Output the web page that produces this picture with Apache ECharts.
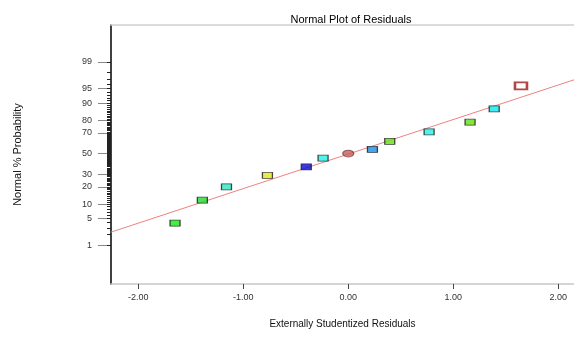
<!DOCTYPE html>
<html><head><meta charset="utf-8">
<script src="https://cdn.jsdelivr.net/npm/echarts@6/dist/echarts.min.js"></script>
<style>html,body{margin:0;padding:0;background:#fff}#c{width:574px;height:337px}</style>
</head><body><div id="c"></div>
<script>
// ---- data ----
const residuals     = [-1.65, -1.39, -1.16, -0.77, -0.40, -0.24, 0.00, 0.23, 0.395, 0.77, 1.16, 1.39, 1.645];
const probabilities = [3.9, 11.9, 20.0, 29.0, 36.8, 45.4, 50.0, 54.3, 62.2, 71.0, 78.7, 87.2, 95.7];
const pointColors   = ['#10ee10', '#20dd30', '#30e6c0', '#e6e620', '#0a0ae0', '#20f0e8', '#c0605c',
                       '#1890e8', '#66e010', '#20f0e8', '#66e010', '#10e8f0', '#ffffff'];
const fitLineResiduals     = [-2.26, 2.15];
const fitLineProbabilities = [2.33, 96.93];
const xTickValues   = [-2, -1, 0, 1, 2];
const yTickLabels   = [1, 5, 10, 20, 30, 50, 70, 80, 90, 95, 99];
const yMinorTickPct = [1,2,3,4,5,6,7,8,9,10,11,12,13,14,15,16,17,18,19,20,21,22,23,24,25,26,27,28,29,30,
  31,32,33,34,35,36,37,38,39,40,41,42,43,44,45,46,47,48,49,50,51,52,53,54,55,56,57,58,59,60,
  61,62,63,64,65,66,67,68,69,70,71,72,73,74,75,76,77,78,79,80,81,82,83,84,85,86,87,88,89,90,
  91,92,93,94,95,96,97,98,99];

// inverse standard normal CDF (Acklam) — the probability-scale transform
function probit(p) {
  const a = [-3.969683028665376e+01, 2.209460984245205e+02, -2.759285104469687e+02, 1.383577518672690e+02, -3.066479806614716e+01, 2.506628277459239e+00];
  const b = [-5.447609879822406e+01, 1.615858368580409e+02, -1.556989798598866e+02, 6.680131188771972e+01, -1.328068155288572e+01];
  const c = [-7.784894002430293e-03, -3.223964580411365e-01, -2.400758277161838e+00, -2.549732539343734e+00, 4.374664141464968e+00, 2.938163982698783e+00];
  const d = [7.784695709041462e-03, 3.224671290700398e-01, 2.445134137142996e+00, 3.754408661907416e+00];
  const pl = 0.02425, ph = 1 - pl;
  let q, r;
  if (p < pl) { q = Math.sqrt(-2 * Math.log(p));
    return (((((c[0]*q+c[1])*q+c[2])*q+c[3])*q+c[4])*q+c[5]) / ((((d[0]*q+d[1])*q+d[2])*q+d[3])*q+1); }
  if (p <= ph) { q = p - 0.5; r = q * q;
    return (((((a[0]*r+a[1])*r+a[2])*r+a[3])*r+a[4])*r+a[5])*q / (((((b[0]*r+b[1])*r+b[2])*r+b[3])*r+b[4])*r+1); }
  q = Math.sqrt(-2 * Math.log(1 - p));
  return -(((((c[0]*q+c[1])*q+c[2])*q+c[3])*q+c[4])*q+c[5]) / ((((d[0]*q+d[1])*q+d[2])*q+d[3])*q+1);
}
const z = pct => probit(pct / 100);

const yMajorZ = yTickLabels.map(z);
const yMinorZ = yMinorTickPct.map(z);
const labelFont = '"Liberation Sans Narrow", "Liberation Sans", Arial, sans-serif';

const points = residuals.map((x, i) => {
  const base = { value: [x, z(probabilities[i])], itemStyle: { color: pointColors[i], borderColor: '#1a1a1a', borderWidth: 1 } };
  if (i === 6) { base.symbol = 'circle'; base.symbolSize = [11, 7]; base.itemStyle.borderColor = '#7a3a38'; }
  if (i === 12) { base.symbolSize = [12, 7]; base.itemStyle.borderColor = '#a01818'; base.itemStyle.borderWidth = 2; }
  return base;
});

const chart = echarts.init(document.getElementById('c'), null, { renderer: 'canvas' });
chart.setOption({
  animation: false,
  backgroundColor: '#fff',
  title: {
    text: 'Normal Plot of Residuals', left: 346, top: 9, textAlign: 'center',
    textStyle: { fontSize: 11, fontWeight: 'normal', color: '#000', fontFamily: '"Liberation Sans", Arial, sans-serif' }
  },
  grid: { left: 111, right: 0, top: 25, bottom: 53, containLabel: false },
  xAxis: [{
    type: 'value', min: -2.26, max: 2.15, position: 'bottom',
    name: 'Externally Studentized Residuals', nameLocation: 'middle', nameGap: 35,
    nameTextStyle: { fontSize: 10, color: '#111', fontFamily: '"Liberation Sans", Arial, sans-serif' },
    axisLine: { show: true, onZero: false, lineStyle: { color: '#c8c8c8', width: 1.5 } },
    axisTick: { show: true, customValues: xTickValues, length: 5, lineStyle: { color: '#444' } },
    axisLabel: { customValues: xTickValues, margin: 9, fontSize: 9, color: '#333', fontFamily: labelFont,
      formatter: v => v.toFixed(2) },
    splitLine: { show: false }
  }, {
    type: 'value', min: -2.26, max: 2.15, position: 'top',
    axisLine: { show: true, onZero: false, lineStyle: { color: '#d0d0d0', width: 1.5 } },
    axisTick: { show: false }, axisLabel: { show: false }, splitLine: { show: false }
  }],
  yAxis: [{
    type: 'value', min: -3.305, max: 3.26, position: 'left',
    name: 'Normal % Probability', nameLocation: 'middle', nameGap: 88, nameRotate: 90,
    nameTextStyle: { fontSize: 11, color: '#111', fontFamily: '"Liberation Sans", Arial, sans-serif' },
    axisLine: { show: true, onZero: false, lineStyle: { color: '#000', width: 1.5 } },
    axisTick: { show: true, customValues: yMajorZ, length: 13, lineStyle: { color: '#888' } },
    axisLabel: { customValues: yMajorZ, margin: 19, fontSize: 9, color: '#333', fontFamily: labelFont,
      formatter: v => { const i = yMajorZ.findIndex(t => Math.abs(t - v) < 1e-6); return i >= 0 ? String(yTickLabels[i]) : ''; } },
    splitLine: { show: false }
  }, {
    type: 'value', min: -3.305, max: 3.26, position: 'left', offset: 0,
    axisLine: { show: false, onZero: false },
    axisTick: { show: true, customValues: yMinorZ, length: 4, lineStyle: { color: '#222' } },
    axisLabel: { show: false }, splitLine: { show: false }
  }],
  series: [{
    type: 'line', xAxisIndex: 0, yAxisIndex: 0, silent: true, symbol: 'none',
    lineStyle: { color: '#f08080', width: 1 },
    data: fitLineResiduals.map((x, i) => [x, z(fitLineProbabilities[i])]),
    z: 2
  }, {
    type: 'scatter', xAxisIndex: 0, yAxisIndex: 0, symbol: 'rect', symbolSize: [10, 6],
    data: points, z: 3
  }]
});
</script></body></html>
